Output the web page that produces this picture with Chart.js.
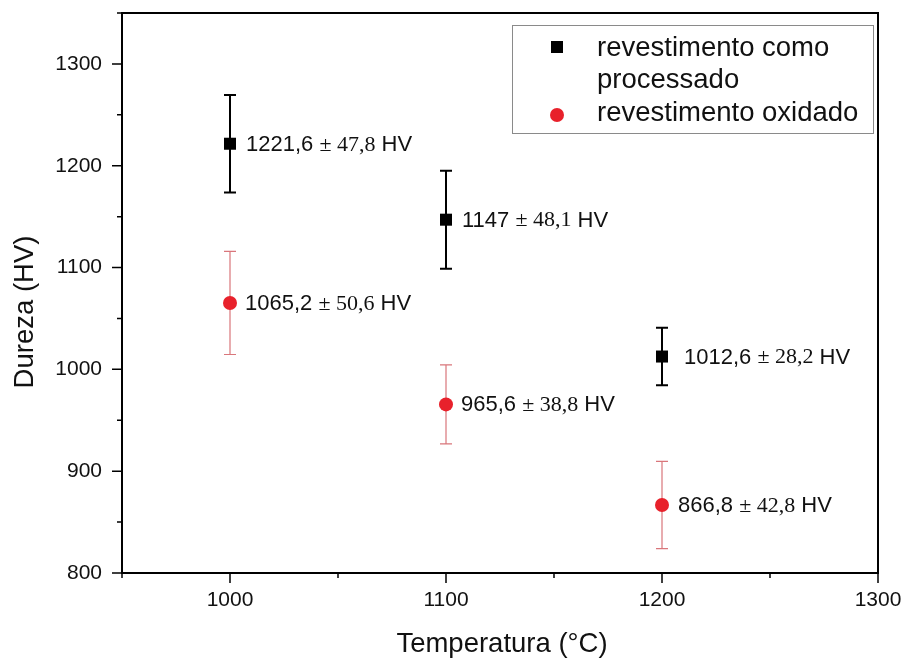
<!DOCTYPE html>
<html>
<head>
<meta charset="utf-8">
<script src="https://cdn.jsdelivr.net/npm/chart.js@4.4.1/dist/chart.umd.min.js"></script>
<style>
  html, body { margin: 0; padding: 0; background: #fff; }
  #wrap { width: 906px; height: 659px; }
</style>
</head>
<body>
<div id="wrap"><canvas id="chart" width="906" height="659"></canvas></div>
<script>
// ─── Data ─────────────────────────────────────────────
const temperatures      = [1000, 1100, 1200];
const hardnessProcessed = [1221.6, 1147, 1012.6];
const errorProcessed    = [47.8, 48.1, 28.2];
const hardnessOxidized  = [1065.2, 965.6, 866.8];
const errorOxidized     = [50.6, 38.8, 42.8];
const seriesNames       = [['revestimento como', 'processado'], ['revestimento oxidado']];
const xTicks            = [1000, 1100, 1200, 1300];
const yTicks            = [800, 900, 1000, 1100, 1200, 1300];

// ─── Fonts / styles ───────────────────────────────────
const SANS  = '"Liberation Sans", Arial, sans-serif';
const SERIF = '"Liberation Serif", "Times New Roman", serif';
const RED   = '#e8212b';
const RED_BAR = '#d9767b';

const fmt = v => String(v).replace('.', ',');
const points = ys => temperatures.map((t, i) => ({ x: t, y: ys[i] }));

// ─── Error bars (behind markers) ──────────────────────
const errorBars = {
    id: 'errorBars',
    beforeDatasetsDraw(chart) {
        const { ctx, scales: { x, y } } = chart;
        chart.data.datasets.forEach(ds => {
            ctx.save();
            ctx.strokeStyle = ds.barColor;
            ctx.lineWidth   = ds.barWidth;
            ds.data.forEach((p, i) => {
                const px  = x.getPixelForValue(p.x);
                const top = y.getPixelForValue(p.y + ds.errors[i]);
                const bot = y.getPixelForValue(p.y - ds.errors[i]);
                const cap = 6;
                ctx.beginPath();
                ctx.moveTo(px, top); ctx.lineTo(px, bot);
                ctx.moveTo(px - cap, top); ctx.lineTo(px + cap, top);
                ctx.moveTo(px - cap, bot); ctx.lineTo(px + cap, bot);
                ctx.stroke();
            });
            ctx.restore();
        });
    },
};

// ─── Value labels next to points ──────────────────────
const valueLabels = {
    id: 'valueLabels',
    afterDatasetsDraw(chart) {
        const { ctx, scales: { x, y } } = chart;
        ctx.save();
        ctx.fillStyle = '#111';
        ctx.textBaseline = 'middle';
        ctx.textAlign = 'left';
        chart.data.datasets.forEach(ds => {
            ds.data.forEach((p, i) => {
                let px = x.getPixelForValue(p.x) + ds.labelShift[i];
                const py = y.getPixelForValue(p.y) + 1;
                const parts = [
                    [fmt(p.y) + ' ', `22px ${SANS}`],
                    ['± ' + fmt(ds.errors[i]), `22px ${SERIF}`],
                    [' HV', `22px ${SANS}`],
                ];
                parts.forEach(([txt, font]) => {
                    ctx.font = font;
                    ctx.fillText(txt, px, py);
                    px += ctx.measureText(txt).width;
                });
            });
        });
        ctx.restore();
    },
};

// ─── Frame, ticks, axis titles, legend ────────────────
const frame = {
    id: 'frame',
    afterDraw(chart) {
        const { ctx, chartArea: a, scales: { x, y } } = chart;
        ctx.save();
        ctx.strokeStyle = '#000';
        ctx.lineWidth = 2;
        ctx.strokeRect(a.left, a.top, a.right - a.left, a.bottom - a.top);

        // ticks: majors 10px, minors 5px, outward
        ctx.lineWidth = 1.5;
        ctx.beginPath();
        const xMinor = [x.min, ...xTicks.map(v => v + 50)].filter(v => v >= x.min && v < x.max);
        const yMinor = yTicks.map(v => v + 50).filter(v => v <= y.max);
        xTicks.forEach(v => { const p = x.getPixelForValue(v); ctx.moveTo(p, a.bottom); ctx.lineTo(p, a.bottom + 10); });
        xMinor.forEach(v => { const p = x.getPixelForValue(v); ctx.moveTo(p, a.bottom); ctx.lineTo(p, a.bottom + 5); });
        yTicks.forEach(v => { const p = y.getPixelForValue(v); ctx.moveTo(a.left, p); ctx.lineTo(a.left - 10, p); });
        yMinor.forEach(v => { const p = y.getPixelForValue(v); ctx.moveTo(a.left, p); ctx.lineTo(a.left - 5, p); });
        ctx.stroke();

        // axis titles
        ctx.fillStyle = '#111';
        ctx.font = `27.5px ${SANS}`;
        ctx.textAlign = 'center';
        ctx.textBaseline = 'alphabetic';
        ctx.fillText('Temperatura (°C)', (a.left + a.right) / 2 + 2, 652);
        ctx.save();
        ctx.translate(33, 312);
        ctx.rotate(-Math.PI / 2);
        ctx.fillText('Dureza (HV)', 0, 0);
        ctx.restore();

        // legend
        const lx = 512, ly = 25, lw = 361, lh = 108;
        ctx.lineWidth = 1;
        ctx.strokeStyle = '#8a8a8a';
        ctx.strokeRect(lx + 0.5, ly + 0.5, lw, lh);
        ctx.font = `27.5px ${SANS}`;
        ctx.textAlign = 'left';
        ctx.textBaseline = 'alphabetic';
        ctx.fillStyle = '#111';
        ctx.fillText(seriesNames[0][0], 597, 56);
        ctx.fillText(seriesNames[0][1], 597, 88);
        ctx.fillText(seriesNames[1][0], 597, 121);
        ctx.fillStyle = '#000';
        ctx.fillRect(551, 41, 12, 12);
        ctx.fillStyle = RED;
        ctx.beginPath();
        ctx.arc(557, 115, 7, 0, Math.PI * 2);
        ctx.fill();
        ctx.restore();
    },
};

const noEdgePadding = s => { s.paddingTop = 0; s.paddingBottom = 0; s.paddingLeft = 0; s.paddingRight = 0; };

// ─── Chart ────────────────────────────────────────────
const ctx = document.getElementById('chart').getContext('2d');
new Chart(ctx, {
    type: 'scatter',
    data: {
        datasets: [
            {
                label: seriesNames[0].join(' '),
                data: points(hardnessProcessed),
                errors: errorProcessed,
                labelShift: [16, 16, 22],
                barColor: '#000',
                barWidth: 2,
                pointStyle: 'rect',
                pointRadius: 8.5,
                backgroundColor: '#000',
                borderColor: '#000',
                borderWidth: 0,
            },
            {
                label: seriesNames[1][0],
                data: points(hardnessOxidized),
                errors: errorOxidized,
                labelShift: [15, 15, 16],
                barColor: RED_BAR,
                barWidth: 1.2,
                pointStyle: 'circle',
                pointRadius: 7,
                backgroundColor: RED,
                borderColor: RED,
                borderWidth: 0,
            },
        ],
    },
    options: {
        responsive: false,
        animation: false,
        devicePixelRatio: 1,
        layout: { padding: { top: 13, right: 28, left: 0, bottom: 0 } },
        plugins: {
            legend: { display: false },
            tooltip: { enabled: false },
        },
        scales: {
            x: {
                type: 'linear',
                min: 950,
                max: 1300,
                afterBuildTicks: s => { s.ticks = xTicks.map(v => ({ value: v })); },
                afterFit: s => { s.height = 86; noEdgePadding(s); },
                grid: { display: false, drawTicks: false, drawOnChartArea: false },
                border: { display: false },
                ticks: { padding: 15, color: '#111', font: { family: SANS, size: 21 }, callback: v => String(v) },
            },
            y: {
                type: 'linear',
                min: 800,
                max: 1350,
                afterBuildTicks: s => { s.ticks = yTicks.map(v => ({ value: v })); },
                afterFit: s => { s.width = 122; noEdgePadding(s); },
                grid: { display: false, drawTicks: false, drawOnChartArea: false },
                border: { display: false },
                ticks: { padding: 20, color: '#111', font: { family: SANS, size: 21 }, callback: v => String(v) },
            },
        },
    },
    plugins: [errorBars, valueLabels, frame],
});
</script>
</body>
</html>
